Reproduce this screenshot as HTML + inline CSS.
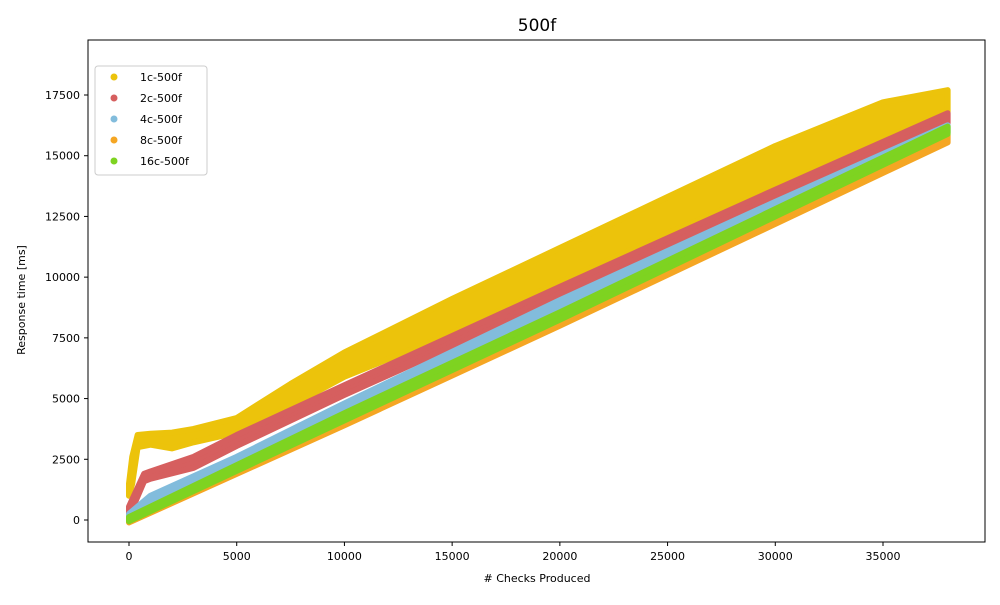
<!DOCTYPE html>
<html><head><meta charset="utf-8"><style>
body{margin:0;background:#fff;font-family:"Liberation Sans","DejaVu Sans",sans-serif;}
svg text{font-family:"DejaVu Sans","Liberation Sans",sans-serif;}
</style></head><body>
<svg id="chart" width="1000" height="600" xmlns="http://www.w3.org/2000/svg">
<rect width="1000" height="600" fill="#fff"/>
<text x="537" y="31" font-size="17" text-anchor="middle">500f</text>
<g id="bands"></g>
<rect x="88" y="40" width="897" height="502" fill="none" stroke="#000" stroke-width="1"/>
<g id="xticks"></g><g id="yticks"></g>
<text x="537" y="582" font-size="11" text-anchor="middle"># Checks Produced</text>
<text x="25" y="300" font-size="11" text-anchor="middle" transform="rotate(-90 25 300)">Response time [ms]</text>
<g id="legend">
<rect x="95" y="66" width="112" height="109" rx="3" fill="#fff" fill-opacity="0.8" stroke="#ccc"/>
</g>
</svg>
<script>
const seriesNames=["1c-500f","2c-500f","4c-500f","8c-500f","16c-500f"];
const seriesColors=["#ecc30b","#d65f5f","#82bcdc","#f5a623","#7ed321"];
const xTicks=[0,5000,10000,15000,20000,25000,30000,35000];
const yTicks=[0,2500,5000,7500,10000,12500,15000,17500];
const x1c=[0,150,400,1000,2000,3000,5000,7500,10000,15000,20000,25000,30000,35000,38000];
const lo1c=[1000,1500,3000,3100,2950,3200,3600,4700,5900,7700,9800,11800,13700,15700,16800];
const hi1c=[1500,2600,3500,3550,3600,3750,4200,5600,6900,9100,11200,13300,15400,17200,17700];
const x2c=[0,700,1000,3000,5000,10000,20000,30000,38000];
const lo2c=[150,1600,1700,2150,3050,5150,9150,13150,16350];
const hi2c=[550,1900,2000,2600,3500,5550,9600,13600,16750];
const x4c=[0,1000,2000,5000,10000,20000,30000,38000];
const lo4c=[0,650,1100,2250,4450,8700,12750,15950];
const hi4c=[250,1000,1400,2600,4800,9050,13100,16250];
const x8c=[0,10000,20000,38000];
const lo8c=[-100,3900,8000,15550];
const hi8c=[100,4200,8300,15850];
const x16c=[0,10000,20000,38000];
const lo16c=[-50,4100,8250,15900];
const hi16c=[120,4400,8550,16200];
const bandsX=[x1c,x2c,x4c,x8c,x16c],bandsLo=[lo1c,lo2c,lo4c,lo8c,lo16c],bandsHi=[hi1c,hi2c,hi4c,hi8c,hi16c];
const NS="http://www.w3.org/2000/svg";
const xs=v=>129+v*(883-129)/35000;
const ys=v=>520-v*(520-95)/17500;
const g=document.getElementById('bands');
for(let s=0;s<5;s++){
 const X=bandsX[s],L=bandsLo[s],H=bandsHi[s];
 let pts=[];
 for(let i=0;i<X.length;i++)pts.push(xs(X[i])+','+ys(H[i]));
 for(let i=X.length-1;i>=0;i--)pts.push(xs(X[i])+','+ys(L[i]));
 const p=document.createElementNS(NS,'polygon');
 p.setAttribute('points',pts.join(' '));
 p.setAttribute('fill',seriesColors[s]);p.setAttribute('stroke',seriesColors[s]);
 p.setAttribute('stroke-width','6');p.setAttribute('stroke-linejoin','round');
 
 
 g.appendChild(p);
}
const xt=document.getElementById('xticks');
xTicks.forEach(v=>{const x=xs(v);
 const l=document.createElementNS(NS,'line');l.setAttribute('x1',x);l.setAttribute('x2',x);l.setAttribute('y1',542);l.setAttribute('y2',546);l.setAttribute('stroke','#000');
 
 
 xt.appendChild(l);
 const t=document.createElementNS(NS,'text');t.setAttribute('x',x);t.setAttribute('y',560);t.setAttribute('font-size','11');t.setAttribute('text-anchor','middle');t.textContent=v;
 
 
 xt.appendChild(t);});
const yt=document.getElementById('yticks');
yTicks.forEach(v=>{const y=ys(v);
 const l=document.createElementNS(NS,'line');l.setAttribute('x1',84);l.setAttribute('x2',88);l.setAttribute('y1',y);l.setAttribute('y2',y);l.setAttribute('stroke','#000');
 
 
 yt.appendChild(l);
 const t=document.createElementNS(NS,'text');t.setAttribute('x',80);t.setAttribute('y',y+4);t.setAttribute('font-size','11');t.setAttribute('text-anchor','end');t.textContent=v;
 
 
 yt.appendChild(t);});
const lg=document.getElementById('legend');
seriesNames.forEach((n,i)=>{const y=77+i*21;
 const c=document.createElementNS(NS,'circle');c.setAttribute('cx',114);c.setAttribute('cy',y);c.setAttribute('r',3.5);c.setAttribute('fill',seriesColors[i]);
 
 
 lg.appendChild(c);
 const t=document.createElementNS(NS,'text');t.setAttribute('x',140);t.setAttribute('y',y+4);t.setAttribute('font-size','11');t.textContent=n;
 
 
 lg.appendChild(t);});
</script>
</body></html>
